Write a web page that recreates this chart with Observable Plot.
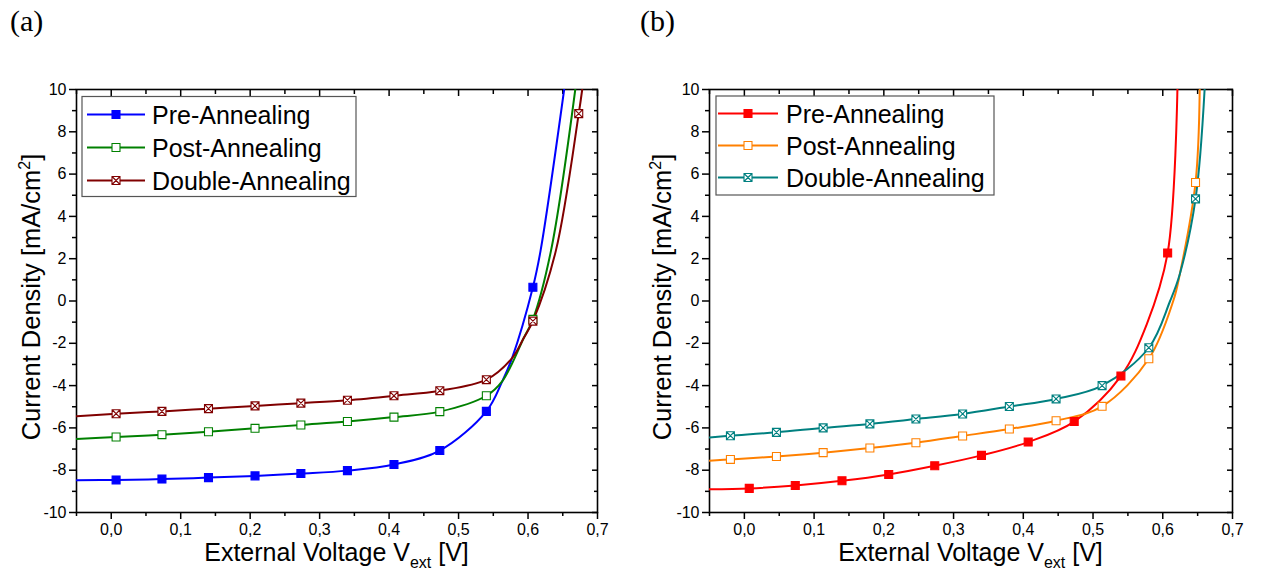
<!DOCTYPE html>
<html><head><meta charset="utf-8">
<script src="https://cdn.jsdelivr.net/npm/d3@7"></script>
<script src="https://cdn.jsdelivr.net/npm/@observablehq/plot@0.6"></script>
<style>
body{margin:0;background:#fff;width:1261px;height:578px;overflow:hidden;position:relative}
.panel{position:absolute;top:0}
</style></head>
<body>
<div id="pa" class="panel" style="left:0"></div>
<div id="pb" class="panel" style="left:630px"></div>
<script>
// ---------- axes / ticks ----------
const xMajor = [0, 0.1, 0.2, 0.3, 0.4, 0.5, 0.6, 0.7];
const xMinor = [-0.05, 0.05, 0.15, 0.25, 0.35, 0.45, 0.55, 0.65];
const xTickLabels = ["0,0", "0,1", "0,2", "0,3", "0,4", "0,5", "0,6", "0,7"];
const yMajor = [-10, -8, -6, -4, -2, 0, 2, 4, 6, 8, 10];
const yMinor = [-9, -7, -5, -3, -1, 1, 3, 5, 7, 9];
const yTickLabels = ["-10", "-8", "-6", "-4", "-2", "0", "2", "4", "6", "8", "10"];
const legendLabels = ["Pre-Annealing", "Post-Annealing", "Double-Annealing"];
const panelTags = ["(a)", "(b)"];

// ---------- panel (a) ----------
const colorsA = ["#0000ff", "#008000", "#800000"];
const preA_markV = [0.007, 0.073, 0.140, 0.207, 0.273, 0.340, 0.407, 0.473, 0.540, 0.607];
const preA_markJ = [-8.46, -8.42, -8.35, -8.27, -8.16, -8.02, -7.73, -7.07, -5.22, 0.65];
const preA_lineV = [-0.05, 0.007, 0.073, 0.140, 0.207, 0.273, 0.340, 0.407, 0.473, 0.540, 0.563, 0.577, 0.607, 0.618, 0.652];
const preA_lineJ = [-8.48, -8.46, -8.42, -8.35, -8.27, -8.16, -8.02, -7.73, -7.07, -5.22, -3.79, -2.70, 0.65, 2.37, 10];

const postA_markV = [0.007, 0.073, 0.140, 0.207, 0.273, 0.340, 0.407, 0.473, 0.540, 0.607];
const postA_markJ = [-6.43, -6.32, -6.18, -6.02, -5.86, -5.70, -5.49, -5.23, -4.48, -0.87];
const postA_lineV = [-0.05, 0.007, 0.073, 0.140, 0.207, 0.273, 0.340, 0.407, 0.473, 0.540, 0.563, 0.594, 0.607, 0.633, 0.668];
const postA_lineJ = [-6.52, -6.43, -6.32, -6.18, -6.02, -5.86, -5.70, -5.49, -5.23, -4.48, -3.79, -1.74, -0.87, 2.37, 10];

const dblA_markV = [0.007, 0.073, 0.140, 0.207, 0.273, 0.340, 0.407, 0.473, 0.540, 0.607, 0.673];
const dblA_markJ = [-5.33, -5.22, -5.09, -4.96, -4.83, -4.69, -4.48, -4.24, -3.72, -0.95, 8.86];
const dblA_lineV = [-0.05, 0.007, 0.073, 0.140, 0.207, 0.273, 0.340, 0.407, 0.473, 0.540, 0.577, 0.594, 0.607, 0.640, 0.673, 0.678];
const dblA_lineJ = [-5.45, -5.33, -5.22, -5.09, -4.96, -4.83, -4.69, -4.48, -4.24, -3.72, -2.70, -1.74, -0.95, 2.37, 8.86, 10];

// ---------- panel (b) ----------
const colorsB = ["#ff0000", "#ff8000", "#008080"];
const preB_markV = [0.007, 0.073, 0.140, 0.207, 0.273, 0.340, 0.407, 0.473, 0.540, 0.607];
const preB_markJ = [-8.86, -8.72, -8.50, -8.20, -7.79, -7.30, -6.67, -5.70, -3.55, 2.27];
const preB_lineV = [-0.05, 0.007, 0.073, 0.140, 0.207, 0.273, 0.340, 0.407, 0.473, 0.540, 0.577, 0.607, 0.621];
const preB_lineJ = [-8.90, -8.86, -8.72, -8.50, -8.20, -7.79, -7.30, -6.67, -5.70, -3.55, -1.10, 2.27, 10];

const postB_markV = [-0.020, 0.046, 0.113, 0.180, 0.246, 0.313, 0.380, 0.447, 0.513, 0.580, 0.647];
const postB_markJ = [-7.49, -7.35, -7.17, -6.95, -6.70, -6.38, -6.05, -5.66, -4.98, -2.73, 5.60];
const postB_lineV = [-0.05, -0.020, 0.046, 0.113, 0.180, 0.246, 0.313, 0.380, 0.447, 0.513, 0.580, 0.615, 0.6245, 0.647, 0.653];
const postB_lineJ = [-7.55, -7.49, -7.35, -7.17, -6.95, -6.70, -6.38, -6.05, -5.66, -4.98, -2.73, 0.0, 1.28, 5.60, 10];

const dblB_markV = [-0.020, 0.046, 0.113, 0.180, 0.246, 0.313, 0.380, 0.447, 0.513, 0.580, 0.647];
const dblB_markJ = [-6.37, -6.21, -6.00, -5.81, -5.58, -5.34, -4.99, -4.63, -4.00, -2.21, 4.83];
const dblB_lineV = [-0.05, -0.020, 0.046, 0.113, 0.180, 0.246, 0.313, 0.380, 0.447, 0.513, 0.580, 0.6105, 0.6245, 0.647, 0.660];
const dblB_lineJ = [-6.45, -6.37, -6.21, -6.00, -5.81, -5.58, -5.34, -4.99, -4.63, -4.00, -2.21, 0.0, 1.28, 4.83, 10];

// ---------- helpers ----------
const toRows = (V, J) => V.map((v, i) => ({v, j: J[i]}));
const crossSquare = {
  draw(ctx, size) {
    const s = Math.sqrt(size) / 2;
    ctx.moveTo(-s, -s); ctx.lineTo(s, -s); ctx.lineTo(s, s); ctx.lineTo(-s, s); ctx.closePath();
    ctx.moveTo(-s, -s); ctx.lineTo(s, s);
    ctx.moveTo(s, -s); ctx.lineTo(-s, s);
  }
};
const R = 4.5;
const FONT = "'Liberation Sans', Arial, sans-serif";

function makePanel(el, cfg) {
  const {width, marginLeft, marginRight, series, colors, tag, legendBox} = cfg;
  const kinds = ["filled", "open", "cross"];
  const marks = [
    Plot.frame({stroke: "#000", strokeWidth: 1.6}),
    Plot.axisX({anchor: "bottom", ticks: xMajor, tickSize: 7, strokeWidth: 1.5, tickPadding: 4,
      tickFormat: d => xTickLabels[xMajor.indexOf(d)], fontSize: 16, label: null}),
    Plot.axisX({anchor: "bottom", ticks: xMinor, tickSize: 4, strokeWidth: 1.5, text: null, label: null}),
    Plot.axisX({anchor: "top", ticks: xMajor, tickSize: 6, dy: 6, strokeWidth: 1.5, text: null, label: null}),
    Plot.axisX({anchor: "top", ticks: xMinor, tickSize: 4, dy: 4, strokeWidth: 1.5, text: null, label: null}),
    Plot.axisY({anchor: "left", ticks: yMajor, tickSize: 7, strokeWidth: 1.5, tickPadding: 3,
      tickFormat: d => yTickLabels[yMajor.indexOf(d)], fontSize: 16, label: null}),
    Plot.axisY({anchor: "left", ticks: yMinor, tickSize: 4, strokeWidth: 1.5, text: null, label: null}),
    Plot.axisY({anchor: "right", ticks: yMajor, tickSize: 6, dx: -6, strokeWidth: 1.5, text: null, label: null}),
    Plot.axisY({anchor: "right", ticks: yMinor, tickSize: 4, dx: -4, strokeWidth: 1.5, text: null, label: null})
  ];
  series.forEach((s, k) => {
    marks.push(Plot.line(toRows(s.lineV, s.lineJ), {x: "v", y: "j", stroke: colors[k], strokeWidth: 2, curve: "catmull-rom", clip: true}));
  });
  series.forEach((s, k) => {
    const kind = kinds[k];
    marks.push(Plot.dot(toRows(s.markV, s.markJ), {
      x: "v", y: "j", r: R,
      symbol: kind === "cross" ? crossSquare : "square",
      fill: kind === "filled" ? colors[k] : "#fff",
      stroke: colors[k], strokeWidth: 1.1, clip: true
    }));
  });
  const svg = Plot.plot({
    width, height: 578, marginLeft, marginRight, marginTop: 89, marginBottom: 66,
    x: {domain: [-0.05, 0.7], label: null},
    y: {domain: [-10, 10], label: null},
    style: {fontFamily: FONT, fontSize: "16px", background: "transparent", color: "#000", overflow: "visible"},
    marks
  });
  el.appendChild(svg);
  const g = d3.select(svg).append("g").attr("font-family", FONT).attr("fill", "#000").attr("text-anchor", "start");
  // panel tag
  g.append("text").attr("x", 10).attr("y", 31).attr("text-anchor", "start")
    .attr("font-family", "'Liberation Serif','Times New Roman',serif")
    .attr("font-size", 30).text(tag);
  // x title
  const cx = marginLeft + (width - marginLeft - marginRight) / 2;
  const xt = g.append("text").attr("x", cx).attr("y", 561).attr("text-anchor", "middle").attr("font-size", 25);
  xt.append("tspan").text("External Voltage V");
  xt.append("tspan").attr("font-size", 16).attr("dy", 7).text("ext");
  xt.append("tspan").attr("dy", -7).text(" [V]");
  // y title
  const yt = g.append("text").attr("transform", `translate(${cfg.yTitleX},297) rotate(-90)`)
    .attr("text-anchor", "middle").attr("font-size", 25.5);
  yt.append("tspan").text("Current Density [mA/cm");
  yt.append("tspan").attr("font-size", 16).attr("dy", -10).text("2");
  yt.append("tspan").attr("dy", 10).text("]");
  // legend
  const L = legendBox;
  g.append("rect").attr("x", L.x).attr("y", L.y).attr("width", L.w).attr("height", L.h)
    .attr("fill", "#fff").attr("stroke", "#555").attr("stroke-width", 1.2);
  legendLabels.forEach((lab, k) => {
    const yy = L.row0 + k * L.dy;
    g.append("line").attr("x1", L.lx1).attr("x2", L.lx2).attr("y1", yy).attr("y2", yy)
      .attr("stroke", colors[k]).attr("stroke-width", 2);
    const sym = d3.symbol().type(kinds[k] === "cross" ? crossSquare : d3.symbolSquare).size(R * R * Math.PI);
    g.append("path").attr("d", sym()).attr("transform", `translate(${(L.lx1 + L.lx2) / 2},${yy})`)
      .attr("fill", kinds[k] === "filled" ? colors[k] : "#fff").attr("stroke", colors[k]).attr("stroke-width", 1.1);
    g.append("text").attr("x", L.tx).attr("y", yy).attr("dy", "0.36em").attr("text-anchor", "start")
      .attr("font-size", 25).text(lab);
  });
}

makePanel(document.getElementById("pa"), {
  width: 630, marginLeft: 76, marginRight: 33, colors: colorsA, tag: panelTags[0], yTitleX: 40,
  series: [
    {markV: preA_markV, markJ: preA_markJ, lineV: preA_lineV, lineJ: preA_lineJ},
    {markV: postA_markV, markJ: postA_markJ, lineV: postA_lineV, lineJ: postA_lineJ},
    {markV: dblA_markV, markJ: dblA_markJ, lineV: dblA_lineV, lineJ: dblA_lineJ}
  ],
  legendBox: {x: 82, y: 96.5, w: 274, h: 100, row0: 114.5, dy: 33, lx1: 87, lx2: 145, tx: 152}
});
makePanel(document.getElementById("pb"), {
  width: 631, marginLeft: 79, marginRight: 29, colors: colorsB, tag: panelTags[1], yTitleX: 41,
  series: [
    {markV: preB_markV, markJ: preB_markJ, lineV: preB_lineV, lineJ: preB_lineJ},
    {markV: postB_markV, markJ: postB_markJ, lineV: postB_lineV, lineJ: postB_lineJ},
    {markV: dblB_markV, markJ: dblB_markJ, lineV: dblB_lineV, lineJ: dblB_lineJ}
  ],
  legendBox: {x: 86, y: 96, w: 278, h: 99, row0: 113.5, dy: 32, lx1: 88, lx2: 148, tx: 156}
});
</script>
</body></html>
